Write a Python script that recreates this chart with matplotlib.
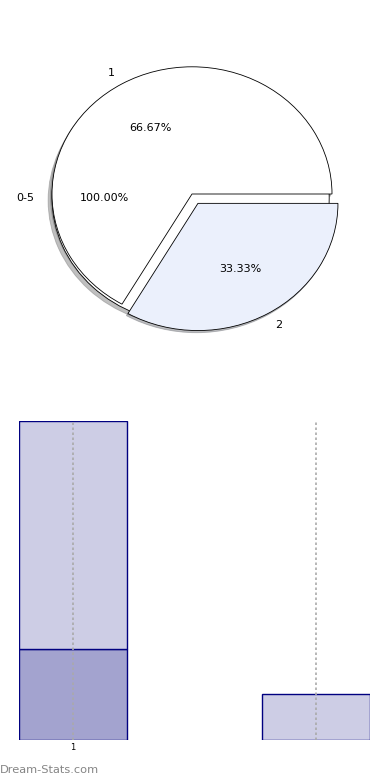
import matplotlib.pyplot as plt

# pie data
outer_labels = ['0-5']
outer_values = [1]
pie_labels = ['1', '2']
pie_values = [2, 1]
pie_colors = ['#FFFFFF', '#EBF0FC']

# bar data (stacked)
bar_x = [1, 2]
bar_dark = [2, 0]
bar_light = [5, 1]
tick_labels = ['1', '']

fig = plt.figure(figsize=(3.9, 7.8), dpi=100)

# pie axes, stretched (not circular) like the original
W, H = 390.0, 780.0
ax1 = fig.add_axes([17 / W, 427 / H, 350 / W, 318 / H])
ax1.pie(outer_values, labels=outer_labels, colors=['#FFFFFF'], radius=0.99,
        center=(-0.01, -0.03), autopct='%1.2f%%', pctdistance=0.62,
        labeldistance=1.13,
        shadow={'ox': -0.02, 'oy': -0.015, 'shade': 0.5},
        wedgeprops=dict(edgecolor='black', linewidth=0.6),
        textprops=dict(fontsize=8), startangle=0)
ax1.pie(pie_values, labels=pie_labels, colors=pie_colors, explode=[0, 0.085],
        autopct='%1.2f%%', pctdistance=0.6, startangle=0,
        shadow={'ox': -0.008, 'oy': -0.012, 'shade': 0.5},
        wedgeprops=dict(edgecolor='black', linewidth=0.6),
        textprops=dict(fontsize=8))
ax1.set_aspect('auto')
ax1.set_xlim(-1.25, 1.25)
ax1.set_ylim(-1.25, 1.25)

# bar axes
ax2 = fig.add_axes([19 / W, 40 / H, 351 / W, 319 / H])
w = 0.444
ax2.bar(bar_x, bar_dark, width=w, color='#A3A3CF', edgecolor='#000080', linewidth=1)
ax2.bar(bar_x, bar_light, width=w, bottom=bar_dark, color='#CDCDE5',
        edgecolor='#000080', linewidth=1)
ax2.set_xlim(1 - w / 2, 2 + w / 2)
ax2.set_ylim(0, 7)
ax2.set_xticks(bar_x)
ax2.set_xticklabels(tick_labels, fontsize=6)
ax2.tick_params(axis='x', length=0, pad=2)
ax2.set_yticks([])
ax2.grid(axis='x', linestyle=(0, (1.5, 1.5)), color='#aaaaaa', linewidth=1.2)
ax2.set_axisbelow(False)
for s in ax2.spines.values():
    s.set_visible(False)

fig.text(0, 10 / H, 'Dream-Stats.com', fontsize=8.2, color='#858585',
         ha='left', va='center')

fig.savefig('out.png', dpi=100)
